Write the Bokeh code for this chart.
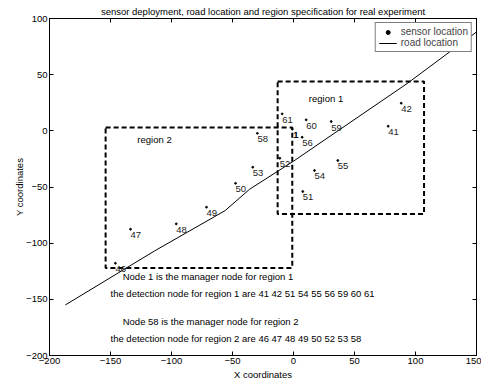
from bokeh.plotting import figure
from bokeh.models import Range1d, LinearAxis, FixedTicker, Legend, LegendItem
from bokeh.core.properties import value
from bokeh.embed import file_html
from bokeh.resources import INLINE

FONT = "Liberation Sans"
FS = "9.5px"

title_text = "sensor deployment, road location and region specification for real experiment"

# sensor data
sensor_id = ["41", "42", "46", "47", "48", "49", "50", "51", "52", "53", "54", "55", "56", "58", "59", "60", "61"]
sensor_x = [77.6, 88.3, -146, -133.6, -96.1, -71.3, -47.5, 7.6, -11.2, -33.4, 17.2, 36.3, 7.1, -29.6, 30.9, 10.4, -9.3]
sensor_y = [4.1, 24.6, -117.9, -87.6, -82.8, -68, -46.7, -54, -24.4, -32.4, -35.3, -26.4, -5.7, -2.2, 8.3, 9.8, 15.1]

manager_id = ["1"]
manager_x = [-1.0]
manager_y = [1.5]

# road polyline
road_x = [-187, -114, -56, -36, 0, 93, 150]
road_y = [-155, -107, -71, -52, -27, 42, 88]

# regions: left, right, bottom, top
region_left = [-13, -154]
region_right = [107, -1]
region_bottom = [-74, -122]
region_top = [44, 3]
region_name = ["region 1", "region 2"]
region_label_x = [12.6, -128]
region_label_y = [28.5, -7.7]

note_text = [
    "Node  1 is the manager node for region 1",
    "the detection node for region 1 are 41 42 51 54 55 56 59 60 61",
    "Node 58 is the manager node for region 2",
    "the detection node for region 2 are 46 47 48 49 50 52 53 58",
]
note_x = [-140, -150, -140, -150]
note_y = [-130, -145, -170, -185]

x_ticks = [-200, -150, -100, -50, 0, 50, 100, 150]
y_ticks = [-200, -150, -100, -50, 0, 50, 100]
x_lim = [-200, 150]
y_lim = [-200, 100]

p = figure(width=481, height=385, x_range=Range1d(*x_lim), y_range=Range1d(*y_lim),
           output_backend="svg", toolbar_location=None,
           min_border_left=49, min_border_right=5, min_border_top=18, min_border_bottom=30,
           title=title_text)
p.title.text_font = FONT
p.title.text_font_size = FS
p.title.text_font_style = "normal"
p.title.text_color = "black"
p.title.align = "center"
p.title.standoff = 4
p.grid.visible = False
p.outline_line_color = "black"
p.outline_line_alpha = 1
p.background_fill_color = "white"

p.add_layout(LinearAxis(), "above")
p.add_layout(LinearAxis(), "right")

def fmt(v):
    return str(v).replace("-", "\u2212")

for ax in p.xaxis:
    ax.ticker = FixedTicker(ticks=x_ticks)
    ax.major_label_overrides = {t: fmt(t) for t in x_ticks}
for ax in p.yaxis:
    ax.ticker = FixedTicker(ticks=y_ticks)
    ax.major_label_overrides = {t: fmt(t) for t in y_ticks}
for ax in list(p.xaxis) + list(p.yaxis):
    ax.major_tick_in = 4
    ax.major_tick_out = 0
    ax.minor_tick_in = 0
    ax.minor_tick_out = 0
    ax.axis_line_color = "black"
    ax.major_tick_line_color = "black"
    ax.major_label_text_font = FONT
    ax.major_label_text_font_size = FS
    ax.major_label_text_color = "black"
    ax.major_label_standoff = 2
    ax.axis_label_text_font = FONT
    ax.axis_label_text_font_size = FS
    ax.axis_label_text_font_style = "normal"
    ax.axis_label_text_color = "black"

# top and right axes: ticks only
p.above[0].major_label_overrides = {t: "" for t in x_ticks}
p.right[0].major_label_overrides = {t: "" for t in y_ticks}
p.above[0].major_label_standoff = 0
p.right[0].major_label_standoff = 0
p.below[0].axis_label = "X coordinates"
p.below[0].axis_label_standoff = 2
p.left[0].axis_label = "Y coordinates"
p.left[0].axis_label_standoff = -2

# regions
p.quad(left=region_left, right=region_right, bottom=region_bottom, top=region_top,
       fill_alpha=0, line_color="black", line_width=2, line_dash="5 3")
p.text(x=region_label_x, y=region_label_y, text=region_name, text_font=value(FONT),
       text_font_size=FS, text_baseline="middle", text_align="left", text_color="black")

# road
road_r = p.line(road_x, road_y, line_color="black", line_width=1)

# sensors
sens_r = p.scatter(sensor_x, sensor_y, size=1.8, color="black")
p.scatter(manager_x, manager_y, size=1.8, color="black")
p.text(x=sensor_x, y=sensor_y, text=sensor_id, text_font=value(FONT), text_font_size=FS,
       text_baseline="middle", text_align="left", x_offset=0, y_offset=6, text_color="#222222")
p.text(x=manager_x, y=manager_y, text=manager_id, text_font=value(FONT), text_font_size=FS,
       text_font_style="bold", text_baseline="middle", text_align="left", x_offset=1, y_offset=6,
       text_color="black")

# notes
p.text(x=note_x, y=note_y, text=note_text, text_font=value(FONT), text_font_size=FS,
       text_baseline="middle", text_align="left", text_color="black")

legend = Legend(items=[LegendItem(label="sensor location", renderers=[sens_r]),
                       LegendItem(label="road location", renderers=[road_r])],
                location="top_right")
legend.label_text_font = FONT
legend.label_text_font_size = "10px"
legend.label_height = 10
legend.glyph_height = 10
legend.glyph_width = 18
legend.label_standoff = 4
legend.spacing = 0
legend.padding = 3
legend.margin = 4
legend.border_line_color = "black"
legend.border_line_width = 1
legend.background_fill_alpha = 1
p.add_layout(legend)

open("out.html", "w").write(file_html(p, INLINE))
